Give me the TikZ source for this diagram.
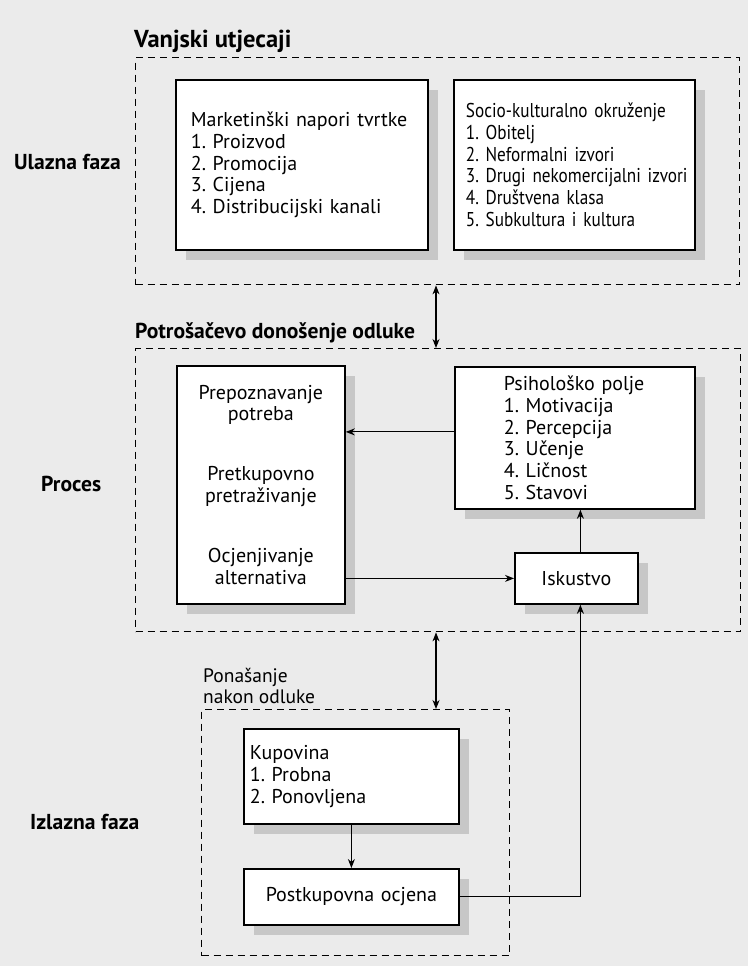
\documentclass[tikz,border=0pt]{standalone}
\usepackage{fontspec}
\setmainfont{PT Sans}
\newfontfamily\socfont[FakeStretch=0.86]{PT Sans}
\usetikzlibrary{arrows.meta,shadows}
\definecolor{bgc}{gray}{0.92}
\definecolor{shc}{gray}{0.78}
\frenchspacing
\begin{document}
\begin{tikzpicture}[x=1pt,y=-1pt,
  every node/.style={font=\fontsize{20}{21.7}\selectfont},
  box/.style={draw, line width=1.8pt, fill=white, anchor=north west, inner ysep=0pt,
    drop shadow={shadow xshift=10pt, shadow yshift=-10pt, fill=shc, opacity=1}},
  frame/.style={draw, line width=1.4pt, dash pattern=on 7pt off 5pt, anchor=north west, inner sep=0pt},
  lbl/.style={anchor=west, inner sep=0pt, font=\fontsize{21.6}{22}\selectfont\bfseries},
  arr/.style={line width=1.1pt, -{Stealth[length=9pt,width=7pt]}},
  darr/.style={line width=1.1pt, {Stealth[length=9pt,width=7pt]}-{Stealth[length=9pt,width=7pt]}}
]
\fill[bgc] (0,0) rectangle (748,966);
\useasboundingbox (0,0) rectangle (748,966);

% frames
\node[frame, minimum width=604pt, minimum height=227pt] (vf) at (135,57) {};
\node[frame, minimum width=605pt, minimum height=283pt] (pf) at (135,348) {};
\node[frame, minimum width=308pt, minimum height=246pt] (if) at (201,709) {};

% labels
\node[lbl, font=\fontsize{24.5}{26}\selectfont\bfseries] (l1) at (134,41) {Vanjski utjecaji};
\node[lbl] (l2) at (14,162) {Ulazna faza};
\node[lbl] (l3) at (135,333) {Potrošačevo donošenje odluke};
\node[lbl] (l4) at (41,484) {Proces};
\node[lbl] (l5) at (30,822) {Izlazna faza};
\node[anchor=west, inner sep=0pt, align=left, font=\fontsize{19.5}{21.7}\selectfont] (l6) at (203,686) {Ponašanje\\nakon odluke};

% boxes
\node[box, minimum width=252pt, minimum height=170pt, inner xsep=15pt, text width=222pt, align=left] (mk) at (175,79)
  {Marketinški napori tvrtke\\1. Proizvod\\2. Promocija\\3. Cijena\\4. Distribucijski kanali};
\node[box, minimum width=241pt, minimum height=170pt, inner xsep=12pt, text width=217pt, align=left,
  font=\fontsize{20}{21.7}\socfont] (sk) at (453,79)
  {Socio-kulturalno okruženje\\1. Obitelj\\2. Neformalni izvori\\\mbox{3. Drugi nekomercijalni izvori}\\4. Društvena klasa\\5. Subkultura i kultura};
\node[box, minimum width=168pt, minimum height=238pt, inner xsep=2pt, text width=164pt, align=center] (pp) at (176,365)
  {Prepoznavanje\\potreba\\[38pt]Pretkupovno\\pretraživanje\\[39pt]Ocjenjivanje\\alternativa};
\node[box, minimum width=240pt, minimum height=142pt, inner xsep=49pt, text width=142pt, align=left] (ps) at (454,366)
  {Psihološko polje\\1. Motivacija\\2. Percepcija\\3. Učenje\\4. Ličnost\\5. Stavovi};
\node[box, minimum width=123pt, minimum height=51pt, inner xsep=2pt, text width=119pt, align=center] (is) at (514,552)
  {Iskustvo};
\node[box, minimum width=215pt, minimum height=95pt, inner xsep=6pt, text width=203pt, align=left] (ku) at (243,728)
  {Kupovina\\1. Probna\\2. Ponovljena};
\node[box, minimum width=215pt, minimum height=56pt, inner xsep=2pt, text width=211pt, align=center] (po) at (243,868)
  {Postkupovna ocjena};

% connectors
\coordinate (ax) at (436,0);
\coordinate (ps1) at ([yshift=6pt]ps.west);
\coordinate (is1) at ([xshift=4pt]is.north);
\coordinate (is2) at ([xshift=4pt]is.south);
\draw[darr] (ax |- vf.south) -- (ax |- pf.north);
\draw[darr] (ax |- pf.south) -- (ax |- if.north);
\draw[arr] (ps1) -- (pp.east |- ps1);
\draw[arr] (pp.east |- is.west) -- (is.west);
\draw[arr] (is1) -- (is1 |- ps.south);
\draw[arr] (ku.south) -- (po.north);
\draw[arr] (po.east) -| (is2);
\end{tikzpicture}
\end{document}
